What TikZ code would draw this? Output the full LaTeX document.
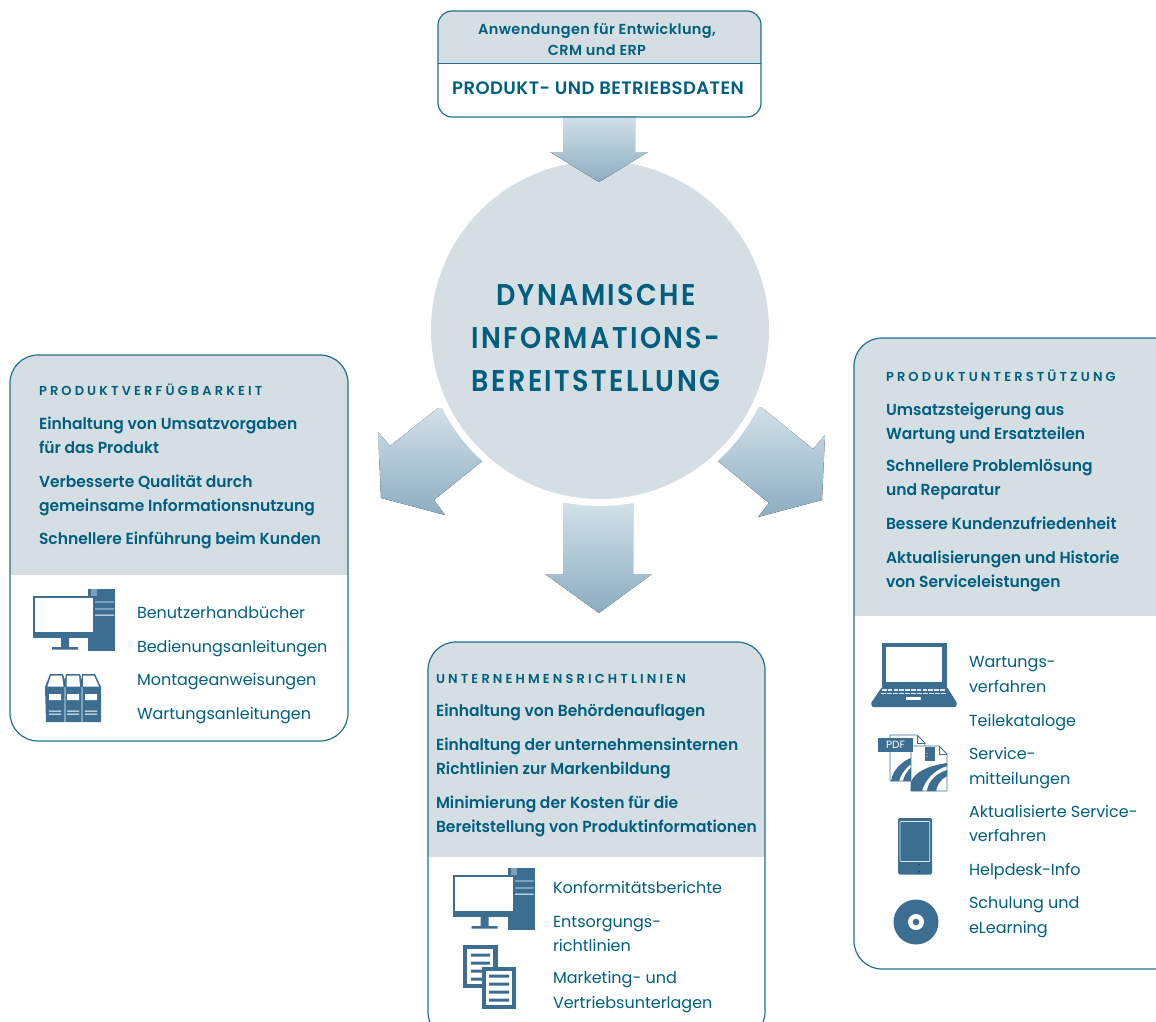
\documentclass[tikz,border=0pt]{standalone}
\usepackage{fontspec}
\setmainfont{Poppins}
\newfontfamily\semib{Poppins SemiBold}[FakeStretch=0.97]
\newfontfamily\capsf{Poppins SemiBold}[LetterSpace=24]
\newfontfamily\topf{Poppins SemiBold}[LetterSpace=2.5]
\newfontfamily\titlef{Poppins SemiBold}[FakeStretch=0.9,LetterSpace=8]
\definecolor{ink}{HTML}{005F80}
\definecolor{icon}{HTML}{3C6E91}
\definecolor{pane}{HTML}{D5DEE3}
\definecolor{edge}{HTML}{1F6F8F}
\definecolor{arrowtop}{HTML}{D2E0E8}
\definecolor{arrowbot}{HTML}{8BADC1}
\tikzset{
  panel/.style={draw=edge,line width=1.2pt},
  bigarrow/.style={top color=arrowtop,bottom color=arrowbot,draw=none},
  lab/.style={text=ink,anchor=base west,inner sep=0pt,outer sep=0pt},
  boldline/.style={lab,font=\semib\fontsize{16}{18}\selectfont},
  plainline/.style={lab,font=\fontsize{16}{18}\selectfont},
  capline/.style={lab,font=\capsf\fontsize{13}{14}\selectfont},
  toptxt/.style={text=ink,anchor=base,inner sep=0pt,font=\topf\fontsize{14.5}{16}\selectfont},
  titleline/.style={text=ink,anchor=base,inner sep=0pt,font=\titlef\fontsize{30}{32}\selectfont},
}
\newcommand{\compicon}[2]{%
\begin{scope}[shift={(#1,#2)}]
  \fill[icon] (88,589) rectangle (115,651);
  \fill[icon!65!white] (91,589) rectangle (97,596);
  \fill[white] (95,601.5) rectangle (114,602.3) (95,608.5) rectangle (114,609.3) (95,614.7) rectangle (114,615.5);
  \fill[icon] (33,596) rectangle (95,638);
  \fill[white] (35,598) rectangle (93,632);
  \fill[icon] (61,638) rectangle (69,647) (52,647) rectangle (78,649.5);
\end{scope}}
\begin{document}
\begin{tikzpicture}[x=1pt,y=-1pt]
\useasboundingbox (0,0) rectangle (1156,1022);
\clip (0,0) rectangle (1156,1022);
% arrows below the circle
\begin{scope}
  \clip (470,383) -- (520,430.5) -- (434,500) -- (445,515) -- (381,498) -- (378,432) -- (390,446) -- cycle;
  \fill[bigarrow] (370,408) rectangle (530,516);
\end{scope}
\begin{scope}
  \clip (735,386) -- (813,449) -- (825,435) -- (822,500) -- (758,517) -- (769,503) -- (680,430) -- cycle;
  \fill[bigarrow] (670,407) rectangle (830,517);
\end{scope}
\begin{scope}
  \clip (563,480) -- (633,480) -- (633,574) -- (652,574) -- (599,613) -- (545,574) -- (563,574) -- cycle;
  \fill[bigarrow] (540,503) rectangle (660,613);
\end{scope}
% circle
\fill[white] (600,330) circle[radius=176];
\fill[pane] (600,330) circle[radius=169];
\fill[bigarrow] (563,117) -- (635,117) -- (635,152) -- (648,152) -- (599,182) -- (550,152) -- (563,152) -- cycle;
\node[titleline] (t1) at (596,305) {DYNAMISCHE};
\node[titleline] (t2) at (596,348) {INFORMATIONS-};
\node[titleline] (t3) at (596,391) {BEREITSTELLUNG};
% top box
\begin{scope}
  \clip[rounded corners=14] (438,11) rectangle (761,117);
  \fill[pane] (438,11) rectangle (761,63);
\end{scope}
\draw[edge,line width=.8pt] (438,63.5) -- (761,63.5);
\draw[panel,rounded corners=14] (438,11) rectangle (761,117);
\node[toptxt] (a1) at (597,35) {Anwendungen für Entwicklung,};
\node[toptxt] (a2) at (597,56) {CRM und ERP};
\node[toptxt,font=\topf\fontsize{18}{20}\selectfont] (a3) at (598,95) {PRODUKT- UND BETRIEBSDATEN};
% left box
\begin{scope}
  \clip[rounded corners=28] (10,355) rectangle (348,741);
  \fill[pane] (10,355) rectangle (348,575);
\end{scope}
\draw[panel,rounded corners=28] (10,355) rectangle (348,741);
\node[capline] (l0) at (39,395) {PRODUKTVERFÜGBARKEIT};
\node[boldline] (l1) at (39,429) {Einhaltung von Umsatzvorgaben};
\node[boldline] (l2) at (39,453) {für das Produkt};
\node[boldline] (l3) at (39,487) {Verbesserte Qualität durch};
\node[boldline] (l4) at (39,511) {gemeinsame Informationsnutzung};
\node[boldline] (l5) at (39,544) {Schnellere Einführung beim Kunden};
\node[plainline] (l6) at (137,618) {Benutzerhandbücher};
\node[plainline] (l7) at (137,652) {Bedienungsanleitungen};
\node[plainline] (l8) at (137,685) {Montageanweisungen};
\node[plainline] (l9) at (137,719) {Wartungsanleitungen};
\compicon{0}{0}
% binders
\fill[icon] (45,687) -- (50,674) -- (63,674) -- (65,680) -- (66,674) -- (80,674) -- (82,680) -- (82,674) -- (95,674) -- (101,687) -- (101,722) -- (46,722) -- cycle;
\fill[white] (47.5,686.5) -- (51,675.5) -- (62,675.5) -- (63.5,686.5) -- cycle
  (66.5,686.5) -- (67,675.5) -- (79,675.5) -- (80,686.5) -- cycle
  (83,686.5) -- (83,675.5) -- (94,675.5) -- (99,686.5) -- cycle;
\fill[white] (49,694) rectangle (61,700) (67,694) rectangle (79,700) (85,694) rectangle (97,700);
\fill[white] (49,710.5) rectangle (61,711.5) (67,710.5) rectangle (79,711.5) (85,710.5) rectangle (97,711.5);
\fill[white] (49,713.5) rectangle (61,714.5) (67,713.5) rectangle (79,714.5) (85,713.5) rectangle (97,714.5);
\fill[white] (64.7,687) rectangle (65.4,722) (81.7,687) rectangle (82.4,722);
% bottom box
\begin{scope}
  \clip[rounded corners=28] (428,642) rectangle (765,1040);
  \fill[pane] (428,642) rectangle (765,857);
\end{scope}
\draw[panel,rounded corners=28] (428,642) rectangle (765,1040);
\node[capline] (b0) at (436,683) {UNTERNEHMENSRICHTLINIEN};
\node[boldline] (b1) at (436,716) {Einhaltung von Behördenauflagen};
\node[boldline] (b2) at (436,750) {Einhaltung der unternehmensinternen};
\node[boldline] (b3) at (436,774) {Richtlinien zur Markenbildung};
\node[boldline] (b4) at (436,808) {Minimierung der Kosten für die};
\node[boldline] (b5) at (436,832) {Bereitstellung von Produktinformationen};
\node[plainline] (b6) at (553,893) {Konformitätsberichte};
\node[plainline] (b7) at (553,927) {Entsorgungs-};
\node[plainline] (b8) at (553,951) {richtlinien};
\node[plainline] (b9) at (553,983) {Marketing- und};
\node[plainline] (b10) at (553,1008) {Vertriebsunterlagen};
\compicon{419.5}{279}
% documents
\fill[icon] (463,945) rectangle (498,988);
\fill[white] (467,949) rectangle (493,984);
\fill[icon] (471,953.5) rectangle (490,956.5) (471,961.5) rectangle (490,964.5) (471,969.5) rectangle (490,972.5) (471,977.5) rectangle (490,980.5);
\fill[icon] (482,967) rectangle (516,1009);
\fill[white] (486,971) rectangle (512,1005);
\fill[icon] (489,974.5) rectangle (509,977.5) (489,982.5) rectangle (509,985.5) (489,990.5) rectangle (509,993.5) (489,998.5) rectangle (509,1001.5);
% right box
\begin{scope}
  \clip[rounded corners=28] (854,338) rectangle (1190,969);
  \fill[pane] (854,338) rectangle (1190,616);
\end{scope}
\draw[panel,rounded corners=28] (854,338) rectangle (1190,969);
\node[capline] (r0) at (886,381) {PRODUKTUNTERSTÜTZUNG};
\node[boldline] (r1) at (886,415) {Umsatzsteigerung aus};
\node[boldline] (r2) at (886,439) {Wartung und Ersatzteilen};
\node[boldline] (r3) at (886,471) {Schnellere Problemlösung};
\node[boldline] (r4) at (886,495) {und Reparatur};
\node[boldline] (r5) at (886,529) {Bessere Kundenzufriedenheit};
\node[boldline] (r6) at (886,563) {Aktualisierungen und Historie};
\node[boldline] (r7) at (886,587) {von Serviceleistungen};
\node[plainline] (r8) at (969,667) {Wartungs-};
\node[plainline] (r9) at (969,692) {verfahren};
\node[plainline] (r10) at (969,726) {Teilekataloge};
\node[plainline] (r11) at (969,759) {Service-};
\node[plainline] (r12) at (969,784) {mitteilungen};
\node[plainline] (r13) at (969,817) {Aktualisierte Service-};
\node[plainline] (r14) at (969,841) {verfahren};
\node[plainline] (r15) at (969,875) {Helpdesk-Info};
\node[plainline] (r16) at (969,908) {Schulung und};
\node[plainline] (r17) at (969,933) {eLearning};
% laptop
\fill[icon] (882,643) rectangle (947,687);
\fill[white] (886,647) rectangle (942,682);
\fill[icon,rounded corners=1] (882,687) -- (947,687) -- (957,703) -- (956,707) -- (872,707) -- (871,703) -- cycle;
\foreach \k in {0,...,10}{\fill[white!85!icon] ({882+\k*5.8},689.3) rectangle ++(4.6,1.6);\fill[white!85!icon] ({881+\k*6},692.8) rectangle ++(4.8,1.6);}
\fill[white] (906,696.8) rectangle (921,700);
% pdf pages
\begin{scope}
  \fill[white,draw=icon,line width=.8pt] (890,735) -- (917,735) -- (925,743) -- (925,781) -- (890,781) -- cycle;
  \draw[icon,line width=.6pt] (917,735) -- (917,743) -- (925,743);
  \begin{scope}
    \clip (890,735) -- (917,735) -- (925,743) -- (925,781) -- (890,781) -- cycle;
    \fill[icon] (891,781) .. controls (893,768) and (905,757) .. (925,754) -- (925,757) .. controls (912,761) and (902,770) .. (899,781) -- cycle;
    \fill[icon] (903,781) .. controls (905,772) and (913,763) .. (925,760) -- (925,765) .. controls (919,768) and (914,774) .. (913,781) -- cycle;
    \fill[icon] (918,781) .. controls (919,777) and (921,773) .. (925,770) -- (925,781) -- cycle;
  \end{scope}
  \fill[white,draw=icon,line width=.8pt] (911,746) -- (939,746) -- (947,754) -- (947,791) -- (911,791) -- cycle;
  \draw[icon,line width=.6pt] (939,746) -- (939,754) -- (947,754);
  \begin{scope}
    \clip (911,746) -- (939,746) -- (947,754) -- (947,791) -- (911,791) -- cycle;
    \fill[icon] (911,782) .. controls (915,772) and (927,766) .. (947,763) -- (947,766) .. controls (934,770) and (925,780) .. (922,791) -- (911,791) -- cycle;
    \fill[icon] (927,791) .. controls (928,782) and (935,774) .. (947,770) -- (947,776) .. controls (941,779) and (937,785) .. (936,791) -- cycle;
  \end{scope}
  \fill[icon] (925,747) rectangle (935,761);
  \fill[white] (926.5,753) rectangle (927.3,754) (926.5,756) rectangle (927.3,757);
  \fill[icon] (878,738) rectangle (913,752);
  \node[inner sep=0pt,text=white,font=\fontsize{10.5}{11}\selectfont] (pdflab) at (895.5,745.2) {PDF};
\end{scope}
% tablet
\fill[icon,rounded corners=1.5] (898,818) rectangle (932,874.5);
\draw[white!85!icon,line width=.7pt,rounded corners=.8] (900,821.5) rectangle (929.8,861.5);
\fill[black!60!icon] (919,864.5) circle[radius=.9] (919,871.7) circle[radius=.9];
% disc
\fill[icon] (916,922) circle[radius=22.5];
\fill[white] (916,922) circle[radius=8];
\fill[icon] (916,922) circle[radius=3.3];
\end{tikzpicture}
\end{document}
